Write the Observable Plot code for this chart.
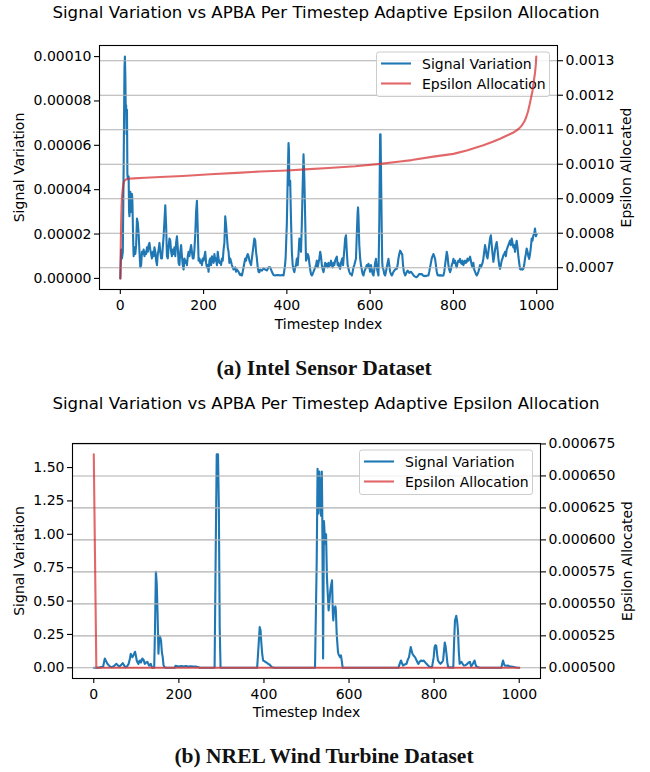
<!DOCTYPE html>
<html>
<head>
<meta charset="utf-8">
<script src="https://cdn.jsdelivr.net/npm/d3@7"></script>
<script src="https://cdn.jsdelivr.net/npm/@observablehq/plot@0.6"></script>
<style>
  html, body { margin: 0; padding: 0; background: white; }
  #root { position: relative; width: 650px; height: 772px; background: white; overflow: hidden; }
  .title { position: absolute; z-index: 2; left: 0; width: 652px; text-align: center; font-family: "DejaVu Sans"; font-size: 16.6px; line-height: 20px; color: black; white-space: nowrap; }
  .cap { position: absolute; z-index: 2; left: 0; width: 648px; text-align: center; font-family: "Liberation Serif"; font-weight: bold; font-size: 21.5px; line-height: 21.5px; color: #111; white-space: nowrap; }
  .chart { position: absolute; left: 0; z-index: 1; }
</style>
</head>
<body>
<div id="root">
  <div class="chart" id="chartA" style="top:0px"></div>
  <div class="chart" id="chartB" style="top:420px"></div>
  <div class="title" id="titleA" style="top:3px"></div>
  <div class="cap" id="capA" style="top:358px"></div>
  <div class="title" id="titleB" style="top:394px"></div>
  <div class="cap" id="capB" style="top:746px"></div>
</div>
<script>
// ---------- text ----------
const chartTitle = "Signal Variation vs APBA Per Timestep Adaptive Epsilon Allocation";
const captions = ["(a) Intel Sensor Dataset", "(b) NREL Wind Turbine Dataset"];
const xLabel = "Timestep Index";
const yLeftLabel = "Signal Variation";
const yRightLabel = "Epsilon Allocated";
const legendLabels = ["Signal Variation", "Epsilon Allocation"];

// ---------- ticks ----------
const xTicks = [0, 200, 400, 600, 800, 1000];
const intelLeftTicks = [0, 0.00002, 0.00004, 0.00006, 0.00008, 0.0001];
const intelRightTicks = [0.0007, 0.0008, 0.0009, 0.0010, 0.0011, 0.0012, 0.0013];
const nrelLeftTicks = [0, 0.25, 0.5, 0.75, 1.0, 1.25, 1.5];
const nrelRightTicks = [0.0005, 0.000525, 0.00055, 0.000575, 0.0006, 0.000625, 0.00065, 0.000675];

// ---------- data: Intel (signal in units of 1e-5) ----------
const intelSignalE5 = [
[0,0],[2,1.3],[4,0.9],[6,1.2],[8,5.0],[10,9.5],[11,10.0],[12,9.2],[13,7.6],[14,7.8],[15,6.5],[16,7.6],[17,4.7],[18,4.5],[20,4.6],[21,3.0],[22,2.8],[24,3.9],[25,3.7],[26,3.0],[28,3.8],[29,3.5],[31,1.6],[32,1.0],[34,1.4],[36,1.1],[38,1.5],[40,2.7],[42,2.5],[44,2.0],[46,1.2],[48,0.5],[50,0.6],[52,1.2],[54,1.1],[56,1.3],[58,1.0],[60,1.2],[62,1.1],[64,1.4],[66,1.2],[68,1.5],[70,1.6],[72,1.3],[74,1.1],[76,0.9],[78,1.2],[80,1.0],[82,1.4],[84,1.2],[86,0.8],[88,0.6],[90,1.1],[92,1.3],[94,1.6],[96,1.2],[98,0.9],[100,0.9],
[102,1.4],[104,1.9],[106,2.6],[108,3.3],[110,2.4],[112,1.0],[114,0.9],[116,1.4],[118,1.8],[120,1.7],[122,1.2],[124,1.0],[126,1.3],[128,1.1],[130,1.4],[132,1.0],[134,1.6],[136,1.9],[138,1.4],[140,0.7],[142,0.6],[144,1.2],[146,1.5],[148,1.0],[150,0.6],[152,0.4],[154,0.9],[156,0.7],[158,0.8],[160,0.6],[162,1.0],[164,1.2],[166,1.0],[168,1.3],[170,1.5],[172,1.2],[174,0.9],[176,0.9],[178,1.3],[180,2.0],[182,3.0],[184,3.5],[186,2.2],[188,0.8],[190,0.9],[192,0.7],[194,0.8],[196,0.6],[198,0.9],[200,0.8],
[202,1.0],[204,1.2],[206,0.7],[208,0.5],[210,0.6],[212,0.3],[214,0.8],[216,0.9],[218,0.6],[220,1.0],[222,0.8],[224,0.7],[226,1.1],[228,0.8],[230,0.9],[232,0.6],[234,1.2],[236,0.9],[238,0.7],[240,0.75],[242,0.6],[244,0.9],[246,0.8],[248,1.3],[250,1.6],[252,2.8],[254,2.4],[256,1.9],[258,1.4],[260,1.2],[262,0.7],[264,0.9],[266,0.75],[268,0.6],[270,0.5],[272,0.4],[274,0.45],[276,0.5],[278,0.3],[280,0.4],[282,0.35],[284,0.3],[286,0.2],[288,0.15],[290,0.2],[292,0.13],[294,0.3],[296,0.5],[298,0.7],[300,0.9],
[302,0.8],[304,1.0],[306,1.1],[308,1.0],[310,0.8],[312,0.7],[314,0.6],[316,0.9],[318,1.2],[320,1.5],[322,1.8],[324,1.7],[326,1.2],[328,0.9],[330,0.5],[332,0.3],[334,0.28],[336,0.4],[340,0.35],[344,0.45],[348,0.4],[352,0.36],[356,0.5],[360,0.5],[364,0.3],[368,0.15],[372,0.13],[376,0.15],[380,0.15],[384,0.13],[388,0.15],[392,0.13],[395,0.5],[397,0.9],[400,2.5],
[402,4.5],[404,6.1],[405,5.8],[406,4.2],[408,4.4],[410,2.6],[412,1.2],[414,0.6],[416,0.4],[418,0.28],[420,0.5],[422,0.6],[424,0.9],[426,0.6],[428,1.1],[430,1.8],[432,1.6],[434,1.2],[436,2.5],[438,4.2],[440,5.6],[442,4.5],[444,2.7],[446,0.8],[448,0.9],[450,1.1],[452,1.0],[454,0.7],[456,0.4],[458,0.2],[460,0.13],[462,0.2],[464,0.3],[466,0.4],[468,0.5],[470,0.6],[472,0.8],[474,0.5],[476,0.7],[478,0.9],[480,1.2],[482,1.0],[484,0.6],[486,0.4],[488,0.28],[490,0.5],[492,0.7],[494,0.55],[496,0.66],[498,0.5],[500,0.7],
[502,0.55],[504,0.6],[506,0.8],[508,0.6],[510,0.5],[512,0.7],[514,0.6],[516,0.8],[518,0.9],[520,0.98],[522,0.6],[524,0.7],[526,0.5],[528,0.43],[530,0.7],[533,0.9],[535,0.6],[538,1.3],[540,1.8],[542,1.94],[544,1.2],[546,0.6],[548,0.43],[550,0.3],[552,0.2],[554,0.2],[556,0.13],[558,0.3],[560,0.5],[562,0.6],[564,0.75],[566,0.9],[568,2.0],[570,3.0],[571,3.2],[572,2.8],[574,1.5],[576,0.9],[578,0.6],[580,0.4],[582,0.2],[584,0.13],[586,0.3],[588,0.4],[590,0.5],[592,0.6],[594,0.5],[596,0.66],[598,0.5],[600,0.3],
[602,0.6],[604,0.4],[606,0.2],[608,0.13],[610,0.4],[612,0.7],[614,0.88],[616,0.5],[618,0.3],[620,0.13],[622,2.5],[624,6.5],[625,6.5],[626,5.0],[628,2.0],[629,0.75],[630,0.5],[632,0.4],[634,0.2],[636,0.13],[638,0.3],[640,0.5],[642,0.7],[644,0.88],[646,0.6],[648,0.3],[650,0.2],[652,0.13],[654,0.2],[656,0.3],[658,0.35],[660,0.4],[662,0.45],[664,0.43],[666,0.6],[668,0.9],[670,1.1],[672,1.25],[674,1.2],[676,1.1],[677,1.1],[679,0.6],[681,0.3],[684,0.13],[686,0.2],[688,0.3],[690,0.35],[692,0.3],[694,0.25],[696,0.28],[698,0.3],[700,0.25],
[702,0.2],[704,0.15],[706,0.1],[708,0.08],[710,0.06],[712,0.06],[714,0.1],[716,0.15],[718,0.2],[720,0.18],[722,0.2],[724,0.2],[726,0.15],[728,0.12],[730,0.1],[732,0.12],[734,0.1],[736,0.12],[738,0.13],[740,0.13],[742,0.3],[744,0.5],[746,0.7],[748,0.9],[750,1.0],[752,1.1],[754,1.0],[756,0.88],[758,0.6],[760,0.3],[762,0.15],[764,0.13],[766,0.15],[768,0.12],[770,0.15],[772,0.13],[774,0.12],[776,0.13],[778,0.3],[780,0.6],[782,0.9],[784,1.2],[786,1.0],[788,0.6],[790,0.4],[792,0.28],[794,0.4],[796,0.6],[798,0.7],[800,0.88],
[802,0.7],[804,0.8],[806,0.6],[808,0.5],[810,0.7],[812,0.8],[814,0.75],[816,0.88],[818,0.7],[820,0.65],[822,0.8],[824,0.6],[826,0.7],[828,0.8],[830,0.7],[832,0.75],[834,0.9],[836,0.8],[838,0.85],[840,0.98],[842,0.8],[844,0.6],[846,0.5],[848,0.7],[850,0.4],[852,0.3],[854,0.2],[856,0.13],[858,0.2],[860,0.3],[862,0.45],[864,0.6],[866,0.5],[868,0.6],[870,0.7],[872,0.9],[874,1.2],[876,1.5],[878,1.3],[880,1.0],[882,0.9],[884,1.2],[886,1.5],[888,1.8],[890,1.94],[892,1.5],[894,1.1],[896,0.75],[898,1.0],[900,1.3],
[902,1.5],[904,1.64],[906,1.3],[908,0.9],[910,0.6],[912,0.43],[914,0.6],[916,0.8],[918,0.9],[920,1.04],[922,1.1],[924,1.2],[926,1.0],[928,1.3],[930,1.4],[932,1.5],[934,1.6],[936,1.7],[938,1.5],[940,1.8],[942,1.6],[944,1.4],[946,1.5],[948,1.2],[950,1.5],[952,1.7],[954,1.4],[956,1.0],[958,0.7],[960,0.43],[962,0.4],[964,0.45],[966,0.4],[968,0.43],[970,0.6],[972,0.9],[974,1.1],[976,1.35],[978,1.2],[980,1.0],[982,0.88],[984,1.1],[986,1.4],[988,1.8],[990,1.7],[992,1.94],[994,2.0],[996,2.25],[998,1.9],[1000,2.0]
];
const intelEpsilon = [
[0,0.000669],[1,0.000760],[2,0.000832],[3,0.000880],[4,0.000905],[6,0.000930],[8,0.000945],[10,0.000952],[14,0.000956],[20,0.000958],[32,0.000959],[60,0.000961],[96,0.000963],[150,0.000966],[216,0.000971],[280,0.000975],[336,0.000979],[400,0.000982],[444,0.000985],[500,0.000989],[564,0.000994],[624,0.001001],[672,0.001008],[700,0.001012],[752,0.001022],[800,0.001030],[832,0.001040],[872,0.001055],[896,0.001066],[912,0.001074],[930,0.001084],[944,0.001092],[952,0.001098],[958,0.001104],[964,0.001112],[970,0.001123],[975,0.001137],[979,0.001152],[982,0.001167],[986,0.001190],[990,0.001213],[993,0.001240],[996,0.001265],[998,0.001290],[999,0.001312]
];

// ---------- data: NREL ----------
const nrelSignal = [
[0,0],[10,0],[18,0.005],[22,0.01],[26,0.07],[29,0.05],[32,0.03],[35,0.02],[38,0.01],[42,0.005],[46,0.01],[50,0.02],[53,0.03],[56,0.02],[60,0.01],[64,0.02],[68,0.035],[71,0.02],[74,0.005],[78,0.01],[82,0.03],[85,0.07],[87,0.105],[89,0.09],[91,0.08],[94,0.1],[97,0.12],[99,0.09],[101,0.055],[103,0.04],[105,0.03],[107,0.05],[109,0.055],[111,0.04],[114,0.07],[117,0.06],[120,0.03],[123,0.04],[126,0.045],[128,0.03],[130,0.017],[132,0.02],[134,0.03],[136,0.01],[138,0],[142,0],
[144,0.3],[146,0.72],[148,0.63],[150,0.4],[152,0.105],[154,0.24],[156,0.23],[158,0.205],[160,0.12],[162,0.08],[164,0.02],[166,0.005],[170,0],[190,0],[192,0.015],[200,0.01],[206,0.013],[212,0.01],[216,0.013],[222,0.01],[228,0.012],[234,0.01],[240,0.01],[246,0.005],[250,0],[284,0],[287,1.0],[289,1.6],[292,1.6],[294,1.2],[296,0.3],[298,0],
[384,0],[387,0.15],[390,0.305],[392,0.28],[394,0.18],[396,0.1],[398,0.055],[401,0.05],[403,0.045],[406,0.04],[410,0.03],[413,0.025],[415,0.017],[419,0.005],[425,0],
[520,0],[524,0.8],[526,1.49],[528,1.155],[530,1.47],[532,1.3],[534,1.14],[536,1.47],[537,1.2],[539,0.07],[541,1.1],[544,0.93],[546,1.0],[548,0.68],[550,0.55],[552,0.43],[554,0.5],[556,0.58],[558,0.62],[560,0.655],[562,0.4],[563,0.355],[565,0.45],[566,0.44],[568,0.46],[569,0.43],[571,0.25],[572,0.205],[574,0.12],[575,0.105],[577,0.09],[579,0.08],[581,0.093],[583,0.05],[585,0],
[716,0],[719,0.03],[722,0.055],[725,0.03],[727,0.017],[731,0.025],[735,0.03],[738,0.06],[741,0.08],[743,0.12],[745,0.155],[747,0.13],[749,0.105],[752,0.09],[755,0.08],[758,0.06],[761,0.04],[763,0.03],[766,0.045],[769,0.055],[772,0.05],[775,0.055],[778,0.045],[782,0.03],[785,0.02],[788,0.01],[792,0.005],[795,0.005],[799,0.08],[801,0.155],[803,0.17],[805,0.165],[807,0.1],[809,0.055],[812,0.04],[815,0.03],[818,0.04],[821,0.055],[823,0.12],[825,0.19],[827,0.16],[829,0.105],[831,0.04],[833,0.005],[845,0],
[847,0.2],[849,0.355],[852,0.39],[854,0.35],[856,0.28],[858,0.12],[860,0.03],[862,0.04],[864,0.045],[867,0.03],[870,0.017],[874,0.02],[878,0.03],[881,0.04],[884,0.045],[887,0.01],[891,0.03],[895,0.055],[897,0.03],[899,0.01],[903,0.005],[907,0],[958,0],[960,0.03],[962,0.055],[964,0.03],[966,0.017],[970,0.015],[973,0.017],[977,0.012],[981,0.01],[985,0.008],[989,0.005],[993,0.002],[1000,0]
];
const nrelEpsilon = [[0,0.000667],[6,0.0005],[1000,0.0005]];

// ---------- styling ----------
const BLUE = "#1f77b4";
const RED = "#d62728";
const GRID = "#b0b0b0";
const W = 650;

function pad5(ext) { const s = ext[1] - ext[0]; return [ext[0] - 0.05 * s, ext[1] + 0.05 * s]; }

function legendMark(mr, mt) {
  const entries = [
    {label: legendLabels[0], color: BLUE, opacity: 1},
    {label: legendLabels[1], color: RED, opacity: 0.7}
  ];
  return () => {
    const w = 173, h = 44.5;
    const x0 = W - mr - 7.5 - w, y0 = mt + 7;
    const g = d3.create("svg:g");
    g.append("rect").attr("x", x0).attr("y", y0).attr("width", w).attr("height", h)
      .attr("rx", 2.5).attr("fill", "white").attr("fill-opacity", 0.8)
      .attr("stroke", "#cccccc").attr("stroke-width", 1);
    entries.forEach((e, i) => {
      const yy = y0 + 11.5 + i * 20;
      g.append("line").attr("x1", x0 + 4.5).attr("x2", x0 + 34.5).attr("y1", yy).attr("y2", yy)
        .attr("stroke", e.color).attr("stroke-opacity", e.opacity).attr("stroke-width", 2.1);
      g.append("text").attr("x", x0 + 45.5).attr("y", yy).attr("dy", "0.36em")
        .attr("text-anchor", "start")
        .attr("fill", "black").attr("font-size", 14).attr("font-family", "DejaVu Sans").text(e.label);
    });
    return g.node();
  };
}

function dualChart(c) {
  const sigDomain = pad5(d3.extent(c.signal, d => d[1]));
  const epsDomain = pad5(d3.extent(c.eps, d => d[1]));
  const toSig = d3.scaleLinear(epsDomain, sigDomain);
  const rf = d3.format(c.rightFmt);
  return Plot.plot({
    width: W, height: c.height,
    marginTop: c.mt, marginBottom: c.mb, marginLeft: c.ml, marginRight: c.mr,
    style: {fontFamily: "DejaVu Sans", fontSize: "14px", color: "black", background: "white", overflow: "visible"},
    x: {domain: [-50, 1050]},
    y: {domain: sigDomain},
    marks: [
      Plot.line(c.signal, {x: d => d[0], y: d => d[1], stroke: BLUE, strokeWidth: 2.1}),
      Plot.ruleY(c.rightTicks, {y: d => toSig(d), stroke: GRID, strokeWidth: 1.1}),
      legendMark(c.mr, c.mt),
      Plot.line(c.eps, {x: d => d[0], y: d => toSig(d[1]), stroke: RED, strokeOpacity: 0.7, strokeWidth: 2.1}),
      Plot.frame({stroke: "black", strokeWidth: 1.1}),
      Plot.axisX({ticks: xTicks, tickFormat: d => String(d), tickSize: 5, tickPadding: 6, label: null, strokeWidth: 1.1}),
      Plot.axisY({anchor: "left", ticks: c.leftTicks, tickFormat: d3.format(c.leftFmt), tickSize: 5, tickPadding: 3, label: null, strokeWidth: 1.1}),
      Plot.axisY({anchor: "right", ticks: c.rightTicks.map(d => toSig(d)), tickFormat: v => rf(toSig.invert(v)), tickSize: 5, tickPadding: 3, label: null, strokeWidth: 1.1}),
      Plot.text([xLabel], {frameAnchor: "bottom", dy: c.xLabelDy, text: d => d, textAnchor: "middle", lineAnchor: "middle", fill: "black"}),
      Plot.text([yLeftLabel], {frameAnchor: "left", dx: c.yLabelDx, rotate: -90, text: d => d, textAnchor: "middle", lineAnchor: "middle", fill: "black"}),
      Plot.text([yRightLabel], {frameAnchor: "right", dx: c.rLabelDx, rotate: -90, text: d => d, textAnchor: "middle", lineAnchor: "middle", fill: "black"})
    ]
  });
}

const intelSignal = intelSignalE5.map(([t, v]) => [t, v * 1e-5]);

document.getElementById("titleA").textContent = chartTitle;
document.getElementById("titleB").textContent = chartTitle;
document.getElementById("capA").textContent = captions[0];
document.getElementById("capB").textContent = captions[1];

document.getElementById("chartA").append(dualChart({
  signal: intelSignal, eps: intelEpsilon,
  leftTicks: intelLeftTicks, rightTicks: intelRightTicks,
  leftFmt: ".5f", rightFmt: ".4f",
  height: 340, mt: 45, mb: 51, ml: 99, mr: 93,
  xLabelDy: 35, yLabelDx: -80, rLabelDx: 69
}));

document.getElementById("chartB").append(dualChart({
  signal: nrelSignal, eps: nrelEpsilon,
  leftTicks: nrelLeftTicks, rightTicks: nrelRightTicks,
  leftFmt: ".2f", rightFmt: ".6f",
  height: 300, mt: 23, mb: 42, ml: 72, mr: 110,
  xLabelDy: 34, yLabelDx: -53, rLabelDx: 87
}));
</script>
</body>
</html>
